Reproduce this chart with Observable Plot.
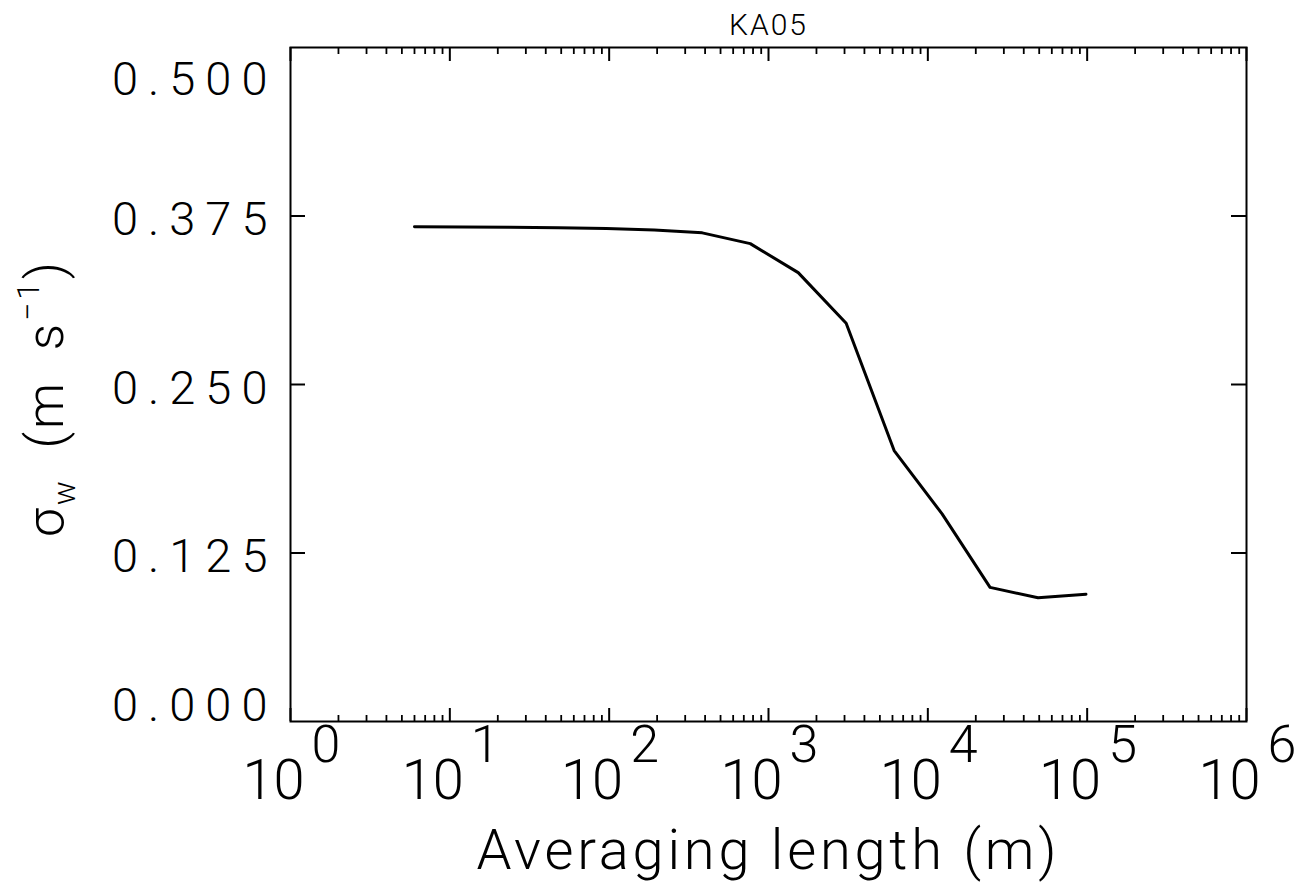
<!DOCTYPE html>
<html>
<head>
<meta charset="utf-8">
<script src="https://cdn.jsdelivr.net/npm/d3@7"></script>
<script src="https://cdn.jsdelivr.net/npm/@observablehq/plot@0.6"></script>
<style>
  html, body { margin: 0; padding: 0; background: #fff; }
  svg { display: block; }
</style>
</head>
<body>
<div id="chart"></div>
<script>
// ---- data ----
const averagingLength = [6, 12, 24, 48, 96, 192, 384, 768, 1536, 3072, 6144, 12288, 24576, 49152, 98304];
const sigmaW = [0.367, 0.3669, 0.3667, 0.3663, 0.3657, 0.3647, 0.3625, 0.3545, 0.333, 0.2955, 0.201, 0.154, 0.0995, 0.0918, 0.0944];

const xMajorTicks = [1, 10, 100, 1000, 10000, 100000, 1000000];
const xTickBase = ["10", "10", "10", "10", "10", "10", "10"];
const xTickExponent = ["0", "1", "2", "3", "4", "5", "6"];
const xMinorMultipliers = [2, 3, 4, 5, 6, 7, 8, 9];
const yTicks = [0, 0.125, 0.25, 0.375, 0.5];
const yTickLabels = ["0.000", "0.125", "0.250", "0.375", "0.500"];
const yInnerTicks = [0.125, 0.25, 0.375];

const title = "KA05";
const xTitle = "Averaging length (m)";

// ---- layout ----
const W = 1304, Hh = 884;
const mL = 290, mR = 58, mT = 47, mB = 163;
const plotW = W - mL - mR, plotH = Hh - mT - mB;

const data = averagingLength.map((L, i) => ({L, s: sigmaW[i]}));
const xMinorTicks = xMajorTicks.slice(0, -1).flatMap(d => xMinorMultipliers.map(m => d * m));
const xLabels = xMajorTicks.map((v, i) => ({v, base: xTickBase[i], exp: xTickExponent[i]}));
const yLabels = yTicks.map((v, i) => ({v, t: yTickLabels[i]}));
const yMid = yLabels.filter(d => d.v > 0 && d.v < 0.5);
const yTop = yLabels.filter(d => d.v === 0.5);
const yBot = yLabels.filter(d => d.v === 0);

const FONT = "Roboto, 'DejaVu Sans', sans-serif";
const LS = 10;
const ytl = {frameAnchor: "left", textAnchor: "end", dx: -23 + LS, fontSize: 47, fontFamily: FONT, fontWeight: 300, lineAnchor: "middle", fill: "black"};

const chart = Plot.plot({
  width: W,
  height: Hh,
  marginLeft: mL, marginRight: mR, marginTop: mT, marginBottom: mB,
  style: {fontFamily: FONT, background: "white", overflow: "visible"},
  x: {type: "log", domain: [1, 1e6], axis: null},
  y: {domain: [0, 0.5], axis: null},
  marks: [
    // ticks
    Plot.ruleX(xMajorTicks, {x: d => d, insetTop: plotH - 13, stroke: "black", strokeWidth: 2}),
    Plot.ruleX(xMajorTicks, {x: d => d, insetBottom: plotH - 14, stroke: "black", strokeWidth: 2}),
    Plot.ruleX(xMinorTicks, {x: d => d, insetTop: plotH - 6, stroke: "black", strokeWidth: 1.8}),
    Plot.ruleX(xMinorTicks, {x: d => d, insetBottom: plotH - 7, stroke: "black", strokeWidth: 1.8}),
    Plot.ruleY(yInnerTicks, {y: d => d, insetRight: plotW - 15, stroke: "black", strokeWidth: 2}),
    Plot.ruleY(yInnerTicks, {y: d => d, insetLeft: plotW - 15, stroke: "black", strokeWidth: 2}),
    Plot.frame({stroke: "black", strokeWidth: 2}),
    // data line
    Plot.line(data, {x: "L", y: "s", stroke: "black", strokeWidth: 3, strokeLinejoin: "round"}),
    // y tick labels
    Plot.text(yMid, {...ytl, y: "v", text: "t", dy: 4}),
    Plot.text(yTop, {...ytl, y: "v", text: "t", dy: 32}),
    Plot.text(yBot, {...ytl, y: "v", text: "t", dy: -16}),
    // x tick labels
    Plot.text(xLabels, {x: "v", text: "base", frameAnchor: "bottom", textAnchor: "end", dx: 14, dy: 60, lineAnchor: "middle", fontSize: 56, fontFamily: FONT, fontWeight: 300, fill: "black"}),
    Plot.text(xLabels, {x: "v", text: "exp", frameAnchor: "bottom", textAnchor: "start", dx: 21, dy: 24, lineAnchor: "middle", fontSize: 52, fontFamily: FONT, fontWeight: 300, fill: "black"}),
    // titles
    Plot.text([title], {text: d => d, frameAnchor: "top", dy: -22, lineAnchor: "middle", fontSize: 30, fontFamily: FONT, fontWeight: 300, fill: "black"}),
    Plot.text([xTitle], {text: d => d, frameAnchor: "bottom", dx: 0, dy: 130, lineAnchor: "middle", fontSize: 56, fontFamily: FONT, fontWeight: 300, fill: "black"})
  ]
});

// letter spacing (Hershey-like wide glyph spacing)
d3.select(chart).selectAll("text").filter(function() { return yTickLabels.includes(this.textContent); })
  .attr("letter-spacing", LS);
d3.select(chart).selectAll("text").filter(function() { return this.textContent === xTitle; })
  .attr("letter-spacing", 3.8);
d3.select(chart).selectAll("text").filter(function() { return this.textContent === title; })
  .attr("letter-spacing", 2);

// y axis title with subscript / superscript
const yt = d3.select(chart).append("text")
  .attr("transform", "translate(63,398) rotate(-90)")
  .attr("text-anchor", "middle")
  .attr("letter-spacing", 3)
  .attr("font-family", FONT).attr("font-weight", 300).attr("font-size", 52).attr("fill", "black");
yt.append("tspan").text("σ");
yt.append("tspan").attr("font-size", 32).attr("dy", 12).text("w");
yt.append("tspan").attr("dy", -12).text("\u2002(m\u2002s");
yt.append("tspan").attr("font-size", 32).attr("dy", -24).text("−1");
yt.append("tspan").attr("dy", 24).text(")");

document.getElementById("chart").appendChild(chart);
</script>
</body>
</html>
